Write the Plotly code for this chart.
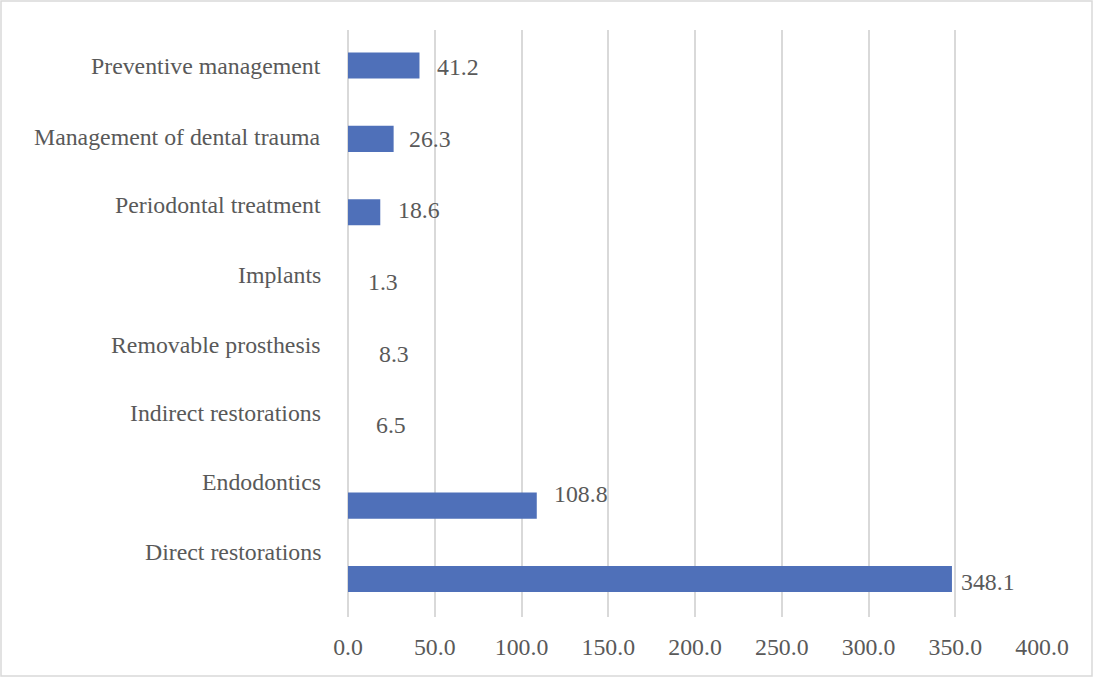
import plotly.graph_objects as go

# Procedures (bottom to top) and their values
categories = [
    "Direct restorations",
    "Endodontics",
    "Indirect restorations",
    "Removable prosthesis",
    "Implants",
    "Periodontal treatment",
    "Management of dental trauma",
    "Preventive management",
]
values = [348.1, 108.8, 6.5, 8.3, 1.3, 18.6, 26.3, 41.2]
x_ticks = [0, 50, 100, 150, 200, 250, 300, 350, 400]

# Styling
BAR = "#4F70B9"
NONE = "rgba(0,0,0,0)"
bar_colors = [BAR, BAR, NONE, NONE, NONE, BAR, BAR, BAR]
cat_dy = [27, 24, 19, 14, 11, 7, 1.5, 0]        # vertical nudge of category labels (px, up)
val_dy = [-2.5, 12, 7, 5, 3.5, 2, 0, -1]        # vertical nudge of value labels (px, up)
val_dx = [7, 15, 15, 15, 16, 16, 13, 16]        # gap between bar end and value label (px)

FONT = "Liberation Serif, Times New Roman, serif"
FS = 23.8
GREY = "#595959"
GRID = "#d9d9d9"
W, H = 1094, 678
ML, MR, MT, MB = 348, 52, 30, 61

fig = go.Figure(
    go.Bar(
        x=values,
        y=categories,
        orientation="h",
        width=0.355,
        marker=dict(color=bar_colors, line=dict(width=0)),
        hoverinfo="x+y",
    )
)

annotations = []
for cat, v, dy, vdy, vdx in zip(categories, values, cat_dy, val_dy, val_dx):
    annotations.append(dict(
        x=0, xref="paper", y=cat, yref="y", text=cat, showarrow=False,
        xanchor="right", yanchor="middle", xshift=-25, yshift=dy,
        font=dict(family=FONT, size=FS, color=GREY),
    ))
    annotations.append(dict(
        x=v, xref="x", y=cat, yref="y", text=f"{v:.1f}", showarrow=False,
        xanchor="left", yanchor="middle", xshift=vdx, yshift=vdy,
        font=dict(family=FONT, size=FS, color=GREY),
    ))

pw = W - ML - MR
ph = H - MT - MB
fig.add_shape(
    type="rect", xref="paper", yref="paper",
    x0=(1 - ML) / pw, x1=(W - 2 - ML) / pw,
    y0=-(H - 2 - MT - ph) / ph, y1=(MT - 1) / ph + 1,
    line=dict(color=GRID, width=1.5), fillcolor="rgba(0,0,0,0)", layer="below",
)

fig.update_layout(
    width=W, height=H,
    margin=dict(l=ML, r=MR, t=MT, b=MB),
    paper_bgcolor="white", plot_bgcolor="white",
    showlegend=False,
    annotations=annotations,
    font=dict(family=FONT, size=FS, color=GREY),
    xaxis=dict(
        range=[0, 400], tickvals=x_ticks, tickformat=".1f",
        showgrid=True, gridcolor=GRID, gridwidth=1.5,
        zeroline=True, zerolinecolor=GRID, zerolinewidth=1.5,
        showline=False, ticks="outside", ticklen=8, tickcolor="rgba(0,0,0,0)",
        tickfont=dict(family=FONT, size=FS, color=GREY),
    ),
    yaxis=dict(
        type="category", categoryorder="array", categoryarray=categories,
        range=[-0.518, 7.484], showticklabels=False, showgrid=False,
        zeroline=False, showline=False,
    ),
)

fig.write_html("out.html")
